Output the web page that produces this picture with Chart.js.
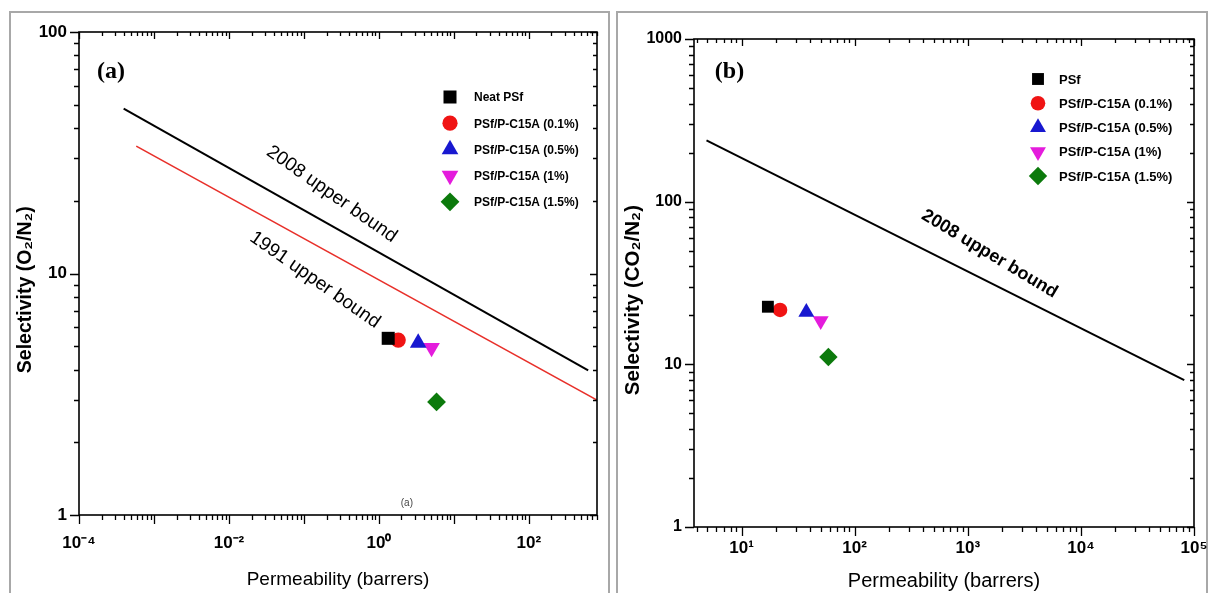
<!DOCTYPE html>
<html><head><meta charset="utf-8">
<script src="https://cdn.jsdelivr.net/npm/chart.js@4.4.1/dist/chart.umd.min.js"></script>
<style>
html,body{margin:0;padding:0;background:#fff;width:1210px;height:593px;overflow:hidden;}
.panel{position:absolute;border:2px solid #a8a8a8;border-bottom:none;box-sizing:border-box;}
#p1{left:9px;top:11px;width:601px;height:600px;}
#p2{left:616px;top:11px;width:592px;height:600px;}
canvas{position:absolute;top:0;}
#c1{left:0;width:610px;height:593px;}
#c2{left:610px;width:600px;height:593px;}
</style></head><body>
<div class="panel" id="p1"></div><div class="panel" id="p2"></div>
<canvas id="c1" width="610" height="593"></canvas>
<canvas id="c2" width="600" height="593"></canvas>
<script>
// ---------- Panel (a): O2/N2 ----------
const o2Series = ['Neat PSf','PSf/P-C15A (0.1%)','PSf/P-C15A (0.5%)','PSf/P-C15A (1%)','PSf/P-C15A (1.5%)'];
const o2Permeability = [1.33, 1.81, 3.34, 5.04, 5.87];
const o2Selectivity  = [5.39, 5.30, 5.16, 4.93, 2.94];
const o2Bound2008Perm = [3.94e-4, 618];
const o2Bound2008Sel  = [48.2, 3.97];
const o2Bound1991Perm = [5.8e-4, 810];
const o2Bound1991Sel  = [33.7, 2.99];
const o2XDecades = [1e-4, 1e-3, 1e-2, 1e-1, 1, 10, 100];
const o2XLabelled = [1e-4, 1e-2, 1, 100];
const o2YDecades = [1, 10];
const o2YLabelled = [1, 10, 100];

// ---------- Panel (b): CO2/N2 ----------
const co2Series = ['PSf','PSf/P-C15A (0.1%)','PSf/P-C15A (0.5%)','PSf/P-C15A (1%)','PSf/P-C15A (1.5%)'];
const co2Permeability = [17.1, 21.9, 37.4, 50.1, 58.6];
const co2Selectivity  = [22.6, 21.6, 20.9, 18.5, 11.1];
const co2Bound2008Perm = [4.9, 82000];
const co2Bound2008Sel  = [238, 8.0];
const co2XDecades = [1, 10, 100, 1000, 10000, 100000];
const co2XLabelled = [10, 100, 1000, 10000, 100000];
const co2YDecades = [1, 10, 100];
const co2YLabelled = [1, 10, 100, 1000];

const FONT = '"Liberation Sans", Arial, Helvetica, sans-serif';
Chart.defaults.font.family = FONT;
Chart.defaults.color = '#000';

const markerStyles = [
  {pointStyle:'rect', rotation:0, color:'#000000'},
  {pointStyle:'circle', rotation:0, color:'#f01414'},
  {pointStyle:'triangle', rotation:0, color:'#1818d0'},
  {pointStyle:'triangle', rotation:180, color:'#e41cdc'},
  {pointStyle:'rectRot', rotation:0, color:'#0c7a0c'}
];

const SUP = {'-':'\u207B','0':'\u2070','1':'\u00B9','2':'\u00B2','3':'\u00B3','4':'\u2074','5':'\u2075','6':'\u2076','7':'\u2077','8':'\u2078','9':'\u2079'};
function pow10Label(v){
  const e = Math.round(Math.log10(v));
  return '10' + String(e).split('').map(c => SUP[c]).join('');
}
function near(a, b){ return Math.abs(Math.log10(a) - Math.log10(b)) < 1e-6; }
function logTicks(decades, min, max){
  const out = [];
  decades.forEach(d => {
    for (let m = 1; m < 10; m++) {
      const v = m * d;
      if (v >= min * 0.9999 && v <= max * 1.0001) out.push({value: v, major: m === 1});
    }
  });
  if (!out.some(t => near(t.value, max)) && Number.isInteger(Math.log10(max))) out.push({value: max, major: true});
  return out;
}

const framePlugin = {
  id: 'frameTicks',
  afterDraw(chart) {
    const o = chart.options.plugins.frameTicks;
    const {ctx, chartArea: ca} = chart;
    const xs = chart.scales.x, ys = chart.scales.y;
    ctx.save();
    ctx.strokeStyle = '#000';
    ctx.lineWidth = 1.3;
    ctx.beginPath();
    xs.ticks.forEach(t => {
      const p = Math.round(xs.getPixelForValue(t.value)) + 0.5;
      const outL = t.major ? 9 : 5, inL = t.major ? 7 : 4;
      ctx.moveTo(p, ca.bottom); ctx.lineTo(p, ca.bottom + outL);
      ctx.moveTo(p, ca.top); ctx.lineTo(p, ca.top + inL);
    });
    ys.ticks.forEach(t => {
      const p = Math.round(ys.getPixelForValue(t.value)) + 0.5;
      const outL = t.major ? 9 : 5, inL = t.major ? 7 : 4;
      ctx.moveTo(ca.left, p); ctx.lineTo(ca.left - outL, p);
      ctx.moveTo(ca.right, p); ctx.lineTo(ca.right - inL, p);
    });
    ctx.stroke();
    ctx.lineWidth = 1.6;
    ctx.strokeRect(ca.left, ca.top, ca.right - ca.left, ca.bottom - ca.top);

    (o.annotations || []).forEach(a => {
      const px = xs.getPixelForValue(a.x), py = ys.getPixelForValue(a.y);
      ctx.save();
      ctx.translate(px, py);
      ctx.rotate(a.rotation * Math.PI / 180);
      ctx.font = a.font; ctx.fillStyle = a.color || '#000';
      ctx.textAlign = 'center'; ctx.textBaseline = 'middle';
      ctx.fillText(a.text, 0, 0);
      ctx.restore();
    });
    if (o.panel) {
      ctx.font = o.panel.font; ctx.fillStyle = '#000';
      ctx.textAlign = 'center'; ctx.textBaseline = 'middle';
      ctx.fillText(o.panel.text, ca.left + o.panel.dx, ca.top + o.panel.dy);
    }
    const lg = o.legend;
    if (lg) {
      let i = 0;
      chart.data.datasets.forEach(ds => {
        if (!ds.inLegend) return;
        const mx = ca.right - lg.fromRight, my = ca.top + lg.fromTop + i * lg.step;
        ctx.fillStyle = ds.backgroundColor;
        if (Chart.helpers && Chart.helpers.drawPoint) {
          Chart.helpers.drawPoint(ctx, {pointStyle: ds.pointStyle, rotation: ds.rotation || 0, radius: ds.pointRadius, borderWidth: 0}, mx, my);
        }
        ctx.fillStyle = '#000';
        ctx.font = lg.font; ctx.textAlign = 'left'; ctx.textBaseline = 'middle';
        ctx.fillText(ds.label, mx + lg.textGap, my + 1);
        i++;
      });
    }
    ctx.restore();
  }
};

function markerDatasets(names, perm, sel, radii){
  return names.map((n, i) => ({
    label: n,
    data: [{x: perm[i], y: sel[i]}],
    pointStyle: markerStyles[i].pointStyle,
    rotation: markerStyles[i].rotation,
    pointRadius: radii[i],
    pointHoverRadius: radii[i],
    backgroundColor: markerStyles[i].color,
    borderColor: markerStyles[i].color,
    borderWidth: 0,
    showLine: false,
    inLegend: true
  }));
}
function lineDataset(label, perm, sel, color, width){
  return {
    label, data: perm.map((p, i) => ({x: p, y: sel[i]})),
    showLine: true, borderColor: color, borderWidth: width,
    pointRadius: 0, pointHoverRadius: 0, fill: false, inLegend: false
  };
}

function makeChart(canvasId, cfg){
  return new Chart(document.getElementById(canvasId), {
    type: 'scatter',
    data: {datasets: cfg.datasets},
    options: {
      responsive: false, animation: false, events: [],
      layout: {padding: {left: 0, top: cfg.top, right: cfg.right, bottom: 0}},
      plugins: {legend: {display: false}, tooltip: {enabled: false}, frameTicks: cfg.deco},
      scales: {
        x: {
          type: 'logarithmic', position: 'bottom', min: cfg.xMin, max: cfg.xMax,
          afterBuildTicks: s => { s.ticks = logTicks(cfg.xDecades, cfg.xMin, cfg.xMax); },
          afterFit: s => { s.height = cfg.xHeight; s.paddingLeft = 0; s.paddingRight = 0; },
          grid: {display: true, drawOnChartArea: false, drawTicks: false},
          border: {display: false},
          ticks: {autoSkip: false, maxRotation: 0, padding: cfg.xPad, font: cfg.xFont, color: '#000',
            callback: v => cfg.xLabelled.some(l => near(l, v)) ? pow10Label(v) : ''},
          title: {display: true, text: 'Permeability (barrers)', font: cfg.xTitleFont, color: '#000', padding: {top: 0, bottom: cfg.xTitlePad}}
        },
        y: {
          type: 'logarithmic', position: 'left', min: cfg.yMin, max: cfg.yMax,
          afterBuildTicks: s => { s.ticks = logTicks(cfg.yDecades, cfg.yMin, cfg.yMax); },
          afterFit: s => { s.width = cfg.yWidth; s.paddingTop = 0; s.paddingBottom = 0; },
          grid: {display: true, drawOnChartArea: false, drawTicks: false},
          border: {display: false},
          ticks: {autoSkip: false, padding: 12, font: cfg.yFont, color: '#000',
            callback: v => cfg.yLabelled.some(l => near(l, v)) ? String(Math.round(v)) : ''},
          title: {display: true, text: cfg.yTitle, font: cfg.yTitleFont, color: '#000', padding: {top: cfg.yTitlePad, bottom: 0}}
        }
      }
    },
    plugins: [framePlugin]
  });
}

makeChart('c1', {
  datasets: [
    lineDataset('2008 upper bound', o2Bound2008Perm, o2Bound2008Sel, '#000000', 2),
    lineDataset('1991 upper bound', o2Bound1991Perm, o2Bound1991Sel, '#e8302a', 1.6),
    ...markerDatasets(o2Series, o2Permeability, o2Selectivity, [9.2, 7.6, 9.6, 9.6, 9.4])
  ],
  top: 32, right: 13, xHeight: 78, yWidth: 79,
  xMin: 1e-4, xMax: 810, yMin: 1, yMax: 100,
  xDecades: o2XDecades, xLabelled: o2XLabelled, yDecades: o2YDecades, yLabelled: o2YLabelled,
  xPad: 18, xFont: {size: 17, weight: 'bold'}, yFont: {size: 17, weight: 'bold'},
  xTitleFont: {size: 19, weight: 'normal'}, xTitlePad: 1.6,
  yTitle: 'Selectivity (O\u2082/N\u2082)      ', yTitleFont: {size: 19.5, weight: 'bold'}, yTitlePad: 13.5,
  deco: {
    annotations: [
      {text: '2008 upper bound', x: 0.235, y: 21.3, rotation: 35, font: '19px ' + FONT},
      {text: '1991 upper bound', x: 0.14, y: 9.4, rotation: 35, font: '19px ' + FONT},
      {text: '(a)', x: 2.36, y: 1.12, rotation: 0, font: '10px ' + FONT, color: '#444'}
    ],
    panel: {text: '(a)', font: 'bold 24px "Liberation Serif", "Times New Roman", serif', dx: 32, dy: 40},
    legend: {fromRight: 147, fromTop: 65, step: 26.2, textGap: 24, font: 'bold 12px ' + FONT}
  }
});

makeChart('c2', {
  datasets: [
    lineDataset('2008 upper bound', co2Bound2008Perm, co2Bound2008Sel, '#000000', 2),
    ...markerDatasets(co2Series, co2Permeability, co2Selectivity, [8.4, 7.3, 9.2, 9.2, 9.2])
  ],
  top: 39, right: 16, xHeight: 66, yWidth: 84,
  xMin: 3.8, xMax: 100000, yMin: 1, yMax: 1000,
  xDecades: co2XDecades, xLabelled: co2XLabelled, yDecades: co2YDecades, yLabelled: co2YLabelled,
  xPad: 11, xFont: {size: 17, weight: 'bold'}, yFont: {size: 16, weight: 'bold'},
  xTitleFont: {size: 20, weight: 'normal'}, xTitlePad: 0,
  yTitle: 'Selectivity (CO\u2082/N\u2082)      ', yTitleFont: {size: 20.5, weight: 'bold'}, yTitlePad: 11,
  deco: {
    annotations: [
      {text: '2008 upper bound', x: 1560, y: 47.7, rotation: 31, font: 'bold 18px ' + FONT}
    ],
    panel: {text: '(b)', font: 'bold 24px "Liberation Serif", "Times New Roman", serif', dx: 35.5, dy: 33},
    legend: {fromRight: 156, fromTop: 40, step: 24.25, textGap: 21, font: 'bold 13px ' + FONT}
  }
});
</script>
</body></html>
